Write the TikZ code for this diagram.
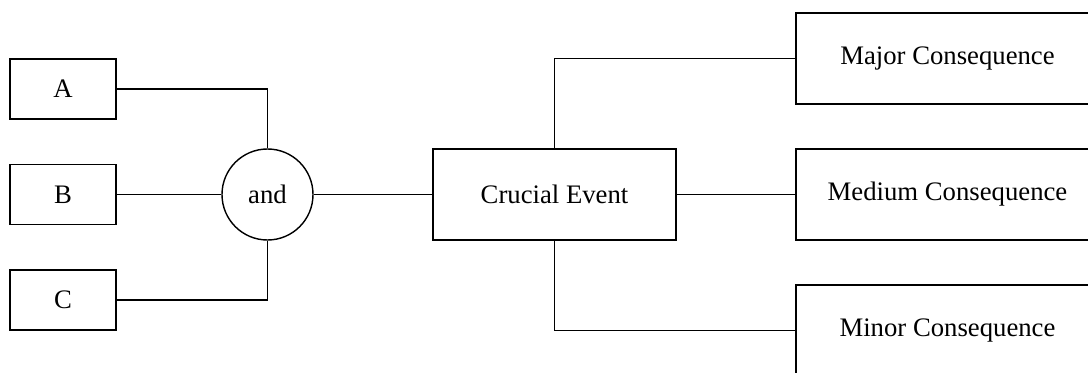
\documentclass[tikz,border=0pt]{standalone}
\usepackage{fontspec}
\setmainfont{Liberation Serif}
\usepackage{tikz}

\begin{document}
\begin{tikzpicture}[line width=0.8pt, font=\fontsize{15.2}{18}\selectfont,
	cause/.style={rectangle, draw=black, minimum width=2.12cm, minimum height=1.2cm},
	result/.style={rectangle, draw=black, minimum width=6.06cm, minimum height=1.82cm}]

\useasboundingbox (0, 0) rectangle (21.76, 7.44);

\node (A) at (1.26, 5.66) [cause] {A};
\node (B) at (1.26, 3.55) [cause] {B};
\node (C) at (1.26, 1.44) [cause] {C};

\node (and) at (5.35, 3.55) [circle, draw=black, minimum size=1.82cm, inner sep=0pt] {and};

\node (event) at (11.09, 3.55) [rectangle, draw=black, minimum width=4.86cm, minimum height=1.82cm] {Crucial Event};

\node (major) at (18.95, 6.27) [result] {Major Consequence};
\node (medium) at (18.95, 3.55) [result] {Medium Consequence};
\node (minor) at (18.95, 0.83) [result] {Minor Consequence};

\draw (A.east) -| (and.north);
\draw (B.east) -- (and.west);
\draw (C.east) -| (and.south);
\draw (and.east) -- (event.west);

\draw (event.north) |- (major.west);
\draw (event.east) -- (medium.west);
\draw (event.south) |- (minor.west);

\end{tikzpicture}
\end{document}
